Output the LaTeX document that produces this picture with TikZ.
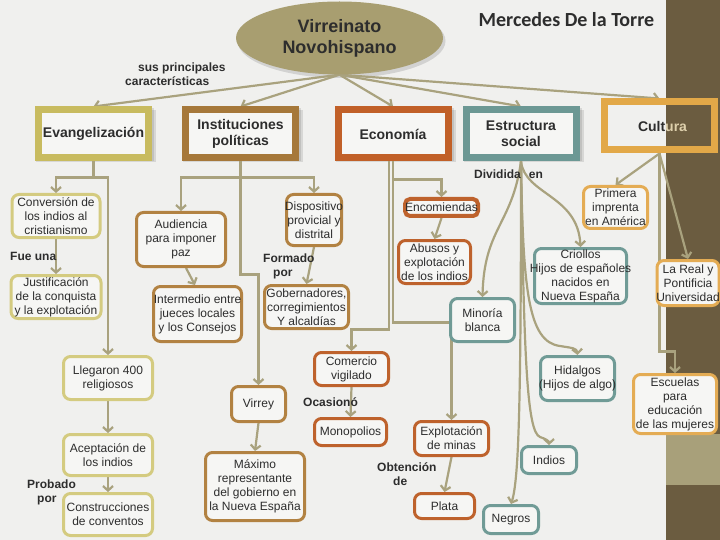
\documentclass[tikz,border=0pt]{standalone}
\usepackage{fontspec}
\setmainfont{Liberation Sans}
\newfontfamily\carl{Carlito}
\usetikzlibrary{arrows.meta,shapes.geometric}
\definecolor{bgc}{RGB}{240,240,238}
\definecolor{bandc}{RGB}{107,92,64}
\definecolor{bandl}{RGB}{168,160,122}
\definecolor{ellc}{RGB}{168,158,112}
\definecolor{linec}{RGB}{169,162,126}
\definecolor{textc}{RGB}{45,45,45}
\definecolor{boxf}{RGB}{246,246,244}
\definecolor{evTop}{RGB}{200,187,95}
\definecolor{evCh}{RGB}{212,203,128}
\definecolor{inTop}{RGB}{166,120,58}
\definecolor{inCh}{RGB}{178,130,66}
\definecolor{ecTop}{RGB}{193,96,40}
\definecolor{ecCh}{RGB}{190,98,44}
\definecolor{esTop}{RGB}{108,152,148}
\definecolor{esCh}{RGB}{112,155,150}
\definecolor{cuTop}{RGB}{226,168,72}
\definecolor{cuCh}{RGB}{228,172,84}
\definecolor{uracol}{RGB}{222,208,172}
\newcommand\mkc[1]{\makebox[0pt]{#1}}
\pgfdeclarelayer{bglayer}
\pgfdeclarelayer{lines}
\pgfsetlayers{bglayer,lines,main}
\begin{document}
\begin{tikzpicture}[x=1pt,y=-1pt,
 conn/.style={draw=linec,line width=2.2pt,-{Straight Barb[length=4.5pt,width=10pt]}},
 topbox/.style={draw=#1,line width=7pt,fill=boxf,minimum width=110pt,minimum height=48pt,inner sep=0pt,align=center,text=textc,font=\bfseries\fontsize{14}{16}\selectfont},
 rbox/.style={draw=#1,line width=3pt,rounded corners=7pt,fill=boxf,inner sep=0pt,align=center,text=textc,font=\fontsize{12}{14}\selectfont},
 lab/.style={inner sep=0pt,text=textc,font=\bfseries\fontsize{12}{14}\selectfont},
 ellnode/.style={ellipse,fill=ellc,minimum width=207pt,minimum height=73pt,inner sep=0pt,align=center,text=textc,font=\bfseries\fontsize{18}{21}\selectfont}]
\begin{pgfonlayer}{bglayer}
\fill[bgc] (0,0) rectangle (720,540);
\fill[bandc] (666,0) rectangle (720,540);
\fill[bandl] (666,434) rectangle (720,485);
\end{pgfonlayer}
\useasboundingbox (0,0) rectangle (720,540);

% title and root
\node[ellnode] (ell) at (339.5,38) {Virreinato\\Novohispano};
\node[inner sep=0pt,text=textc,font=\carl\bfseries\fontsize{20}{24}\selectfont] (author) at (566.5,20) {Mercedes De la Torre};
\node[lab,align=left,anchor=west] (sus) at (125,74) {\hspace*{13pt}sus principales\\características};

% top boxes
\node[topbox=evTop] (evang) at (93.5,134) {Evangelización};
\node[topbox=inTop] (inst) at (240.5,134) {Instituciones\\políticas};
\node[topbox=ecTop] (econ) at (393,134) {Economía};
\node[topbox=esTop] (estr) at (521,134) {Estructura\\social};
\node[topbox=cuTop,fill=none] (cult) at (659.5,126) {\hspace*{6pt}Cult\textcolor{uracol}{ura}};

% Evangelizacion
\node[rbox=evCh,minimum width=88pt,minimum height=43pt] (conv) at (56,216) {Conversión de\\los indios al\\cristianismo};
\node[rbox=evCh,minimum width=90pt,minimum height=43pt] (just) at (56,297) {Justificación\\de la conquista\\y la explotación};
\node[lab,anchor=west] (fue) at (10,256) {Fue una};
\node[rbox=evCh,minimum width=89pt,minimum height=43pt] (lleg) at (108,378) {Llegaron 400\\religiosos};
\node[rbox=evCh,minimum width=89pt,minimum height=41pt] (acep) at (108,455) {Aceptación de\\los indios};
\node[lab,align=left,anchor=west] (prob) at (27,492) {Probado\\\hspace*{10pt}por};
\node[rbox=evCh,minimum width=89pt,minimum height=42pt] (cons) at (108,514.5) {\mkc{Construcciones}\\de conventos};

% Instituciones
\node[rbox=inCh,minimum width=89pt,minimum height=54pt] (aud) at (181,239.5) {Audiencia\\para imponer\\paz};
\node[rbox=inCh,minimum width=88pt,minimum height=55pt] (inter) at (197.5,314) {\mkc{Intermedio entre}\\\mkc{jueces locales}\\\mkc{y los Consejos}};
\node[rbox=inCh,minimum width=55pt,minimum height=51pt] (disp) at (314,220) {\mkc{Dispositivo}\\\mkc{provicial y}\\\mkc{distrital}};
\node[lab,align=left,anchor=west] (form) at (263,266) {Formado\\\hspace*{10pt}por};
\node[rbox=inCh,minimum width=84pt,minimum height=43pt] (gob) at (306.5,307) {\mkc{Gobernadores,}\\\mkc{corregimientos}\\\mkc{Y alcaldías}};
\node[rbox=inCh,minimum width=54pt,minimum height=35pt] (virrey) at (258.5,404) {Virrey};
\node[rbox=inCh,minimum width=99pt,minimum height=68pt] (max) at (255,486.5) {Máximo\\representante\\del gobierno en\\la Nueva España};

% Economia
\node[rbox=ecCh,line width=4pt,rounded corners=5pt,minimum width=73pt,minimum height=17pt] (enc) at (441.5,207.5) {\mkc{Encomiendas}};
\node[rbox=ecCh,minimum width=72pt,minimum height=43pt] (abu) at (434.5,262) {Abusos y\\explotación\\\mkc{de los indios}};
\node[rbox=ecCh,minimum width=74pt,minimum height=33pt] (com) at (351.5,369) {Comercio\\vigilado};
\node[lab,anchor=west] (ocas) at (303,402) {Ocasionó};
\node[rbox=ecCh,minimum width=72pt,minimum height=27pt] (mono) at (350.5,432) {Monopolios};
\node[rbox=ecCh,minimum width=74pt,minimum height=34pt] (expl) at (451.5,438.5) {Explotación\\de minas};
\node[lab,align=left,anchor=west] (obt) at (377,474.5) {Obtención\\\hspace*{16pt}de};
\node[rbox=ecCh,minimum width=60pt,minimum height=25pt] (plata) at (444.5,506) {Plata};

% Estructura social
\node[lab] (div) at (508.5,174) {Dividida\hspace{8pt}en};
\node[rbox=esCh,minimum width=64pt,minimum height=43pt] (mino) at (482.5,320) {Minoría\\blanca};
\node[rbox=esCh,minimum width=92pt,minimum height=55pt] (crio) at (580.5,276) {\mkc{Criollos}\\\mkc{Hijos de españoles}\\\mkc{nacidos en}\\\mkc{Nueva España}};
\node[rbox=esCh,minimum width=74pt,minimum height=44pt] (hida) at (577.5,378.5) {\mkc{Hidalgos}\\\mkc{(Hijos de algo)}};
\node[rbox=esCh,minimum width=55pt,minimum height=27pt] (indi) at (549,460) {Indios};
\node[rbox=esCh,minimum width=55pt,minimum height=28pt] (negr) at (511,519.5) {Negros};

% Cultura
\node[rbox=cuCh,minimum width=64pt,minimum height=42pt] (prim) at (615.5,207.5) {\mkc{Primera}\\\mkc{imprenta}\\\mkc{en América}};
\node[rbox=cuCh,minimum width=62pt,minimum height=45pt] (real) at (688,283) {\mkc{La Real y}\\\mkc{Pontificia}\\\mkc{Universidad}};
\node[rbox=cuCh,minimum width=83pt,minimum height=59pt] (escu) at (675,404) {\mkc{Escuelas}\\\mkc{para}\\\mkc{educación}\\\mkc{de las mujeres}};

% shadows
\begin{pgfonlayer}{bglayer}
\foreach \n in {evang,inst,econ,estr}{
  \fill[black,opacity=.10] ([shift={(1pt,-1pt)}]\n.south west) rectangle ([shift={(4pt,-4pt)}]\n.north east);
  \fill[black,opacity=.10] ([shift={(0pt,0pt)}]\n.south west) rectangle ([shift={(2pt,-2pt)}]\n.north east);
}
\fill[black,opacity=.12] ([shift={(2pt,-3pt)}]ell.center) ellipse [x radius=104pt,y radius=37pt];
\end{pgfonlayer}

% connectors
\begin{pgfonlayer}{lines}
\draw[conn] (ell.south) -- (evang.north);
\draw[conn] (ell.south) -- (inst.north);
\draw[conn] (ell.south) -- (econ.north);
\draw[conn] (ell.south) -- (estr.north);
\draw[conn] (ell.south) -- (cult.north);

\draw[conn] (evang.south) -- ++(0,16) -| (conv.north);
\draw[conn] (evang.south) -- ++(0,16) -| (lleg.north);
\draw[conn] (conv.south) -- (just.north);
\draw[conn] (lleg.south) -- (acep.north);
\draw[conn] (acep.south) -- (cons.north);

\draw[conn] (inst.south) -- ++(0,16) -| (aud.north);
\draw[conn] (inst.south) -- ++(0,16) -| (disp.north);
\draw[conn] (inst.south) -- ++(0,113) -| (virrey.north);
\draw[conn] (aud.-80) -- (inter.95);
\draw[conn] (disp.south) -- (gob.north);
\draw[conn] (virrey.south) -- (max.north);

\draw[conn] ([xshift=-4pt]econ.south) -- ++(0,168) -| (com.north);
\draw[conn] (econ.south) -- ++(0,18) -| (enc.north);
\draw[conn] (econ.south) -- ++(0,161) -| (expl.north);
\draw[conn] (enc.south) -- (abu.north);
\draw[conn] (com.south) -- (mono.north);
\draw[conn] (expl.south) -- (plata.north);

\draw[conn] (estr.south) .. controls (512,225) and (484,228) .. (mino.north);
\draw[conn] (estr.south) .. controls (525,195) and (578,195) .. (crio.north);
\draw[conn] (estr.south) .. controls (523,290) and (528,342) .. (560,346) .. controls (572,348) and (577,348) .. (hida.north);
\draw[conn] (estr.south) .. controls (524,360) and (527,432) .. (540,437) .. controls (546,439) and (549,441) .. (indi.north);
\draw[conn] (estr.south) .. controls (521,400) and (519,480) .. (negr.north);

\draw[conn] (cult.south) -- (prim.north);
\draw[conn] (cult.south) -- (real.north);
\draw[conn] (cult.south) -- ++(0,198) -| (escu.north);
\end{pgfonlayer}
\end{tikzpicture}
\end{document}
